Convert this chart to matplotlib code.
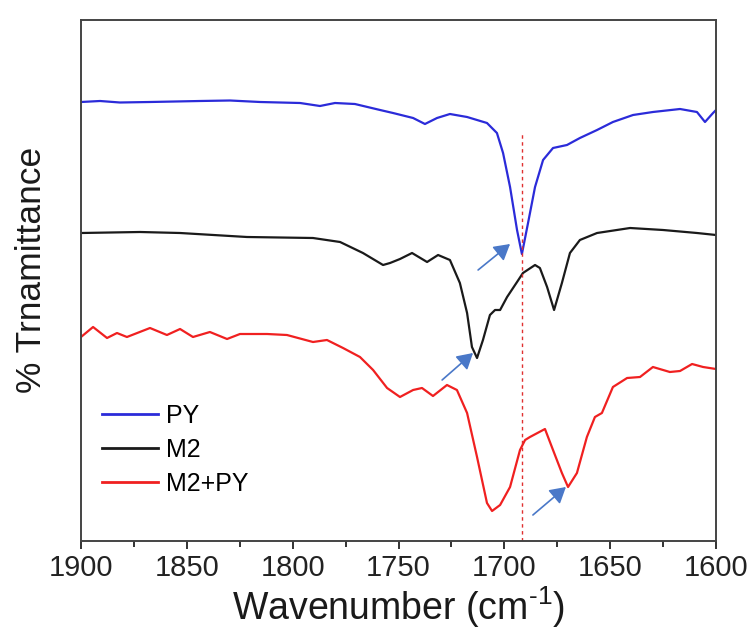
import matplotlib
matplotlib.use("Agg")
import matplotlib.pyplot as plt
import numpy as np

plt.rcParams['font.family'] = ['Liberation Sans', 'DejaVu Sans']
plt.rcParams['mathtext.fontset'] = 'custom'
plt.rcParams['mathtext.rm'] = 'Liberation Sans'
plt.rcParams['mathtext.it'] = 'Liberation Sans:italic'

# Wavenumber (cm^-1) and relative transmittance (arbitrary units, offset stacked)
py_wn = [1900.0, 1891.0, 1881.6, 1867.4, 1843.8, 1829.6, 1815.4, 1796.5, 1787.1, 1780.0,
         1770.6, 1758.7, 1752.6, 1743.1, 1737.5, 1731.8, 1725.7, 1717.6, 1708.2, 1703.5,
         1700.6, 1697.3, 1694.0, 1691.7, 1688.8, 1685.5, 1681.7, 1677.0, 1670.4, 1664.3,
         1656.2, 1648.7, 1639.2, 1629.8, 1617.0, 1609.0, 1605.2, 1601.4, 1600.0]
py_t = [439, 440, 438.5, 439, 440, 440.5, 439, 438, 435, 438,
        437, 431, 428, 423, 417, 423, 427, 424, 418, 408,
        388, 354, 311, 287, 318, 354, 381, 393, 396, 403,
        411, 419, 426, 429, 432, 429, 419, 428, 431]

m2_wn = [1900.0, 1872.1, 1853.2, 1821.6, 1790.4, 1777.6, 1766.8, 1757.3, 1754.0, 1749.3,
         1743.6, 1736.5, 1731.3, 1725.7, 1721.0, 1717.6, 1715.3, 1712.9, 1710.1, 1706.8,
         1704.4, 1702.0, 1698.7, 1694.0, 1691.2, 1685.5, 1683.2, 1679.8, 1676.5, 1672.8,
         1669.0, 1664.3, 1656.2, 1640.6, 1625.0, 1609.0, 1600.0]
m2_t = [308, 309, 308, 304, 303, 299, 288, 276, 278, 282,
        288, 279, 286, 281, 258, 228, 194, 183, 201, 226,
        231, 231, 244, 259, 268, 276, 273, 254, 231, 258,
        288, 301, 308, 313, 311, 308, 306]

mix_wn = [1900.0, 1894.3, 1887.7, 1883.0, 1878.3, 1867.4, 1859.4, 1853.2, 1847.1, 1839.1,
          1831.0, 1824.9, 1812.1, 1802.7, 1790.4, 1783.8, 1776.2, 1768.2, 1762.0, 1755.4,
          1749.3, 1743.1, 1738.9, 1733.7, 1727.1, 1722.4, 1717.6, 1712.9, 1708.2, 1705.8,
          1702.0, 1697.3, 1692.6, 1690.2, 1687.9, 1680.8, 1677.0, 1672.8, 1669.9, 1665.7,
          1661.0, 1657.2, 1653.9, 1648.7, 1642.0, 1635.9, 1629.8, 1621.8, 1617.0, 1611.3,
          1606.1, 1600.0]
mix_t = [204, 214, 203, 208, 204, 213, 206, 212, 204, 209,
         202, 207, 207, 206, 199, 201, 193, 184, 171, 153,
         144, 151, 153, 145, 156, 151, 128, 84, 38, 30,
         36, 54, 91, 101, 104, 112, 91, 68, 54, 68,
         104, 124, 128, 154, 163, 164, 174, 169, 170, 177,
         174, 172]

labels = ['PY', 'M2', 'M2+PY']
colors = ['#2b2bd9', '#1a1a1a', '#f02020']

ref_wn = 1691.7
ref_top = 409

# arrows: (tail wn, tail t, head wn, head t)
arrow_tail_wn = [1712.4, 1729.4, 1686.5]
arrow_tail_t = [271, 161, 26]
arrow_head_wn = [1697.3, 1714.8, 1670.9]
arrow_head_t = [297, 188, 54]

fig = plt.figure(figsize=(7.54, 6.30), dpi=100)
ax = fig.add_axes([81/754, 89/630, 635/754, 521/630])

for wn, t, lab, c in zip([py_wn, m2_wn, mix_wn], [py_t, m2_t, mix_t], labels, colors):
    ax.plot(wn, t, color=c, lw=1.6, label=lab, solid_joinstyle='round')

ax.plot([ref_wn, ref_wn], [0, ref_top], color='#e03030', lw=1.0, ls=(0, (2.5, 2.5)))

for tw, tt, hw, ht in zip(arrow_tail_wn, arrow_tail_t, arrow_head_wn, arrow_head_t):
    ax.annotate('', xy=(hw, ht), xytext=(tw, tt),
                arrowprops=dict(arrowstyle='-|>,head_length=0.95,head_width=0.55',
                                color='#4a78c8', lw=1.2, shrinkA=0, shrinkB=0))

ax.set_xlim(1900, 1600)
ax.set_ylim(0, 521)
ax.set_xticks(np.arange(1900, 1599, -50))
ax.set_xticks(np.arange(1875, 1600, -50), minor=True)
ax.set_yticks([])
ax.tick_params(axis='x', which='major', direction='out', length=6, width=1.3,
               labelsize=21, pad=3, top=False, colors='#222222')
ax.tick_params(axis='x', which='minor', direction='out', length=4, width=1.3, top=False,
               colors='#222222')
for s in ax.spines.values():
    s.set_linewidth(1.4)
    s.set_color('#444444')

ax.set_xlabel(r'Wavenumber (cm$^{\text{-1}}$)', fontsize=27, labelpad=2, color='#1a1a1a')
ax.set_ylabel('% Trnamittance', fontsize=25.5, color='#1a1a1a')
ax.yaxis.set_label_coords(-0.052, 0.52)

leg = ax.legend(loc='upper left', bbox_to_anchor=(0.033, 0.263), frameon=False,
                fontsize=18, handlelength=2.25, handletextpad=0.3, labelspacing=0.4,
                borderaxespad=0, borderpad=0)
for line in leg.get_lines():
    line.set_linewidth(2.0)

fig.savefig('out.png', dpi=100)
